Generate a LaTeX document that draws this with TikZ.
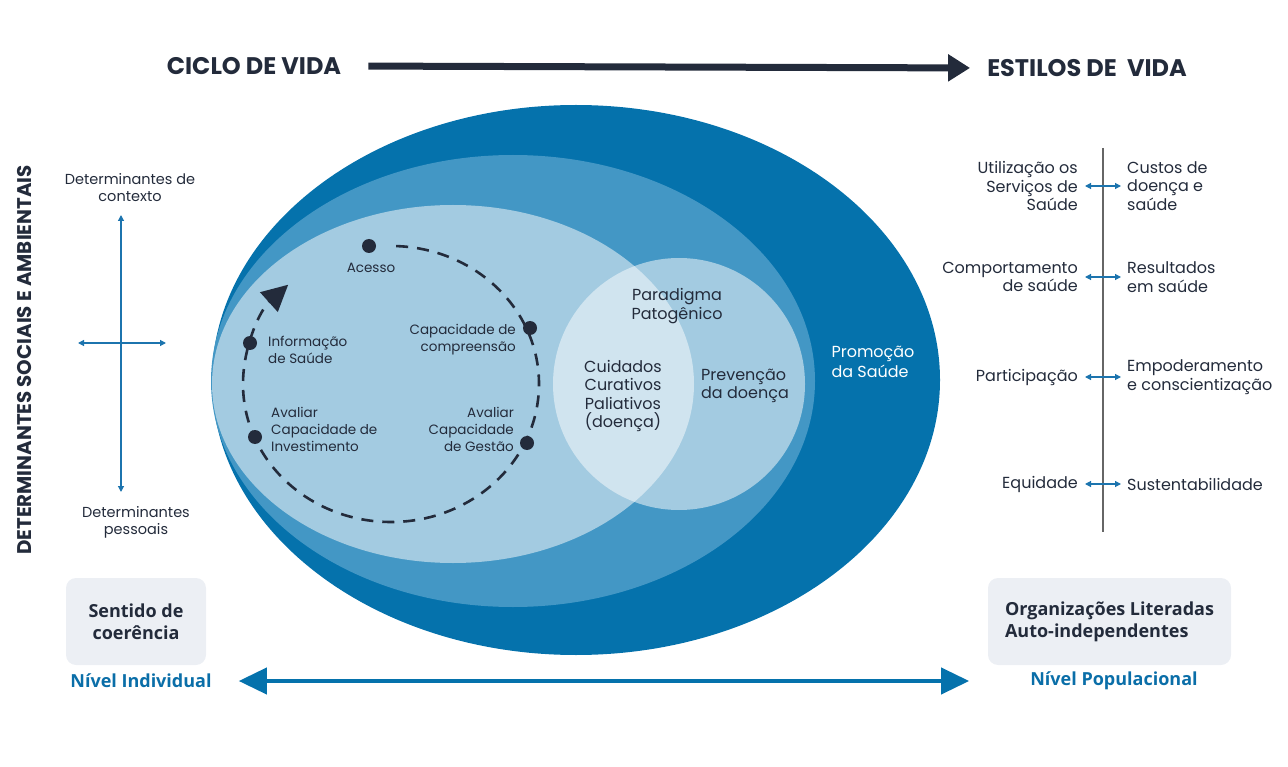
\documentclass[tikz,border=0pt]{standalone}
\usepackage{fontspec}
\setmainfont{Poppins}
\newfontfamily\boxfont{Open Sans}
\usetikzlibrary{positioning,arrows.meta}

\definecolor{ink}{HTML}{232B3B}
\definecolor{deepblue}{HTML}{0572AC}
\definecolor{midblue}{HTML}{4397C5}
\definecolor{paleblue}{HTML}{A3CBE1}
\definecolor{mistblue}{HTML}{D0E4EF}
\definecolor{linkblue}{HTML}{1C74AE}
\definecolor{boxgray}{HTML}{ECEFF4}
\definecolor{levelblue}{HTML}{0A6EA8}

\begin{document}
\begin{tikzpicture}[x=1pt,y=-1pt,
    every node/.style={text=ink, inner sep=0pt},
    title/.style={font=\fontsize{24}{28}\selectfont\bfseries},
    lbl/.style={font=\fontsize{13.5}{17}\selectfont},
    item/.style={font=\fontsize{16}{18.5}\selectfont},
    dot/.style={circle, fill=ink, minimum size=14pt},
    thinarrow/.style={linkblue, line width=1.2pt, {Triangle[length=6pt,width=6pt]}-{Triangle[length=6pt,width=6pt]}},
    levelbox/.style={fill=boxgray, rounded corners=10pt, align=center,
        font=\boxfont\fontsize{18}{22}\selectfont\bfseries},
    level/.style={text=levelblue, font=\boxfont\fontsize{18}{20}\selectfont\bfseries}]

    % Fix the page size
    \useasboundingbox (0,0) rectangle (1288,767);

    % Title arrow on top
    \node[title] (ciclo) at (254,66) {CICLO DE VIDA};
    \node[title] (estilos) at (1087,68) {ESTILOS DE~~VIDA};
    \draw[ink, line width=7pt, shorten <=27pt, shorten >=17pt,
          -{Triangle[length=22pt,width=26pt]}] (ciclo.east) -- (estilos.west);

    % Side label and the cross of determinants
    \node[title, font=\fontsize{19.8}{22}\selectfont\bfseries, rotate=90] (dsa) at (25,360) {DETERMINANTES SOCIAIS E AMBIENTAIS};
    \node[lbl, font=\fontsize{14.5}{17}\selectfont, align=center] (ctx) at (130,188) {Determinantes de\\contexto};
    \node[lbl, font=\fontsize{14.5}{17}\selectfont, align=center] (pes) at (136,522) {Determinantes\\pessoais};
    \coordinate (crossc) at (121,343);
    \coordinate (crossw) at (78,343);
    \coordinate (crosse) at (166,343);
    \draw[thinarrow] (crossc |- 0,215) -- (crossc |- 0,492);
    \draw[thinarrow] (crossw) -- (crosse);

    % Nested ellipses
    \fill[deepblue] (576,380) ellipse [x radius=364, y radius=275];
    \fill[midblue] (513,381) ellipse [x radius=302, y radius=226];
    \fill[paleblue] (453,384) ellipse [x radius=241, y radius=179];
    \fill[paleblue] (679,384) circle (126);
    \begin{scope}
        \clip (453,384) ellipse [x radius=241, y radius=179];
        \fill[mistblue] (679,384) circle (126);
    \end{scope}

    % Texts inside the ellipses
    \node[item, text=white, align=left, font=\fontsize{16}{20}\selectfont] (promo) at (873,362) {Promoção\\da Saúde};
    \node[item, align=center] (parad) at (677,306) {Paradigma\\Patogênico};
    \node[item, align=center] (cuid) at (623,396) {Cuidados\\Curativos\\Paliativos\\(doença)};
    \node[item, align=left] (prev) at (745,386) {Prevenção\\da doença};

    % Dashed cycle
    \coordinate (loopc) at (391,384);
    \draw[ink, line width=2.6pt, dash pattern=on 12pt off 9pt,
          -{Triangle[length=26pt,width=26pt]}]
        ([shift={(-88:148 and 138)}]loopc) arc [start angle=-88, end angle=226, x radius=148, y radius=138];

    \node[dot] (acc) at (369,246) {};
    \node[dot] (comp) at (530,328) {};
    \node[dot] (gest) at (527,443) {};
    \node[dot] (inv) at (255,437) {};
    \node[dot] (info) at (250,343) {};

    \node[lbl] (acctxt) at (371,268) {Acesso};
    \node[lbl, align=right, anchor=east] (comptxt) at (516,340) {Capacidade de\\compreensão};
    \node[lbl, align=right, anchor=east] (gesttxt) at (514,429) {Avaliar\\Capacidade\\de Gestão};
    \node[lbl, align=left, anchor=west] (invtxt) at (271,429) {Avaliar\\Capacidade de\\Investimento};
    \node[lbl, align=left, anchor=west] (infotxt) at (268,350) {Informação\\de Saúde};

    % Lifestyle pairs on the right
    \draw[gray!80!black, line width=1.3pt] (1103,148) -- (1103,532);
    \foreach \y/\lt/\rt [count=\i] in {
        186/{Utilização os\\Serviços de\\Saúde}/{Custos de\\doença e\\saúde},
        277/{Comportamento\\de saúde}/{Resultados\\em saúde},
        377/{Participação}/{Empoderamento\\e conscientização},
        484/{Equidade}/{Sustentabilidade}} {
        \node[item, align=right, anchor=east] (l\i) at (1078,\y) {\lt};
        \node[item, align=left, anchor=west] (r\i) at (1127,\y) {\rt};
        \draw[thinarrow] ([xshift=7pt]l\i.east) -- ++(36,0);
    }

    % Level boxes and bottom arrow
    \node[levelbox, minimum width=140pt, minimum height=87pt] (sentido) at (136,621.5) {Sentido de\\coerência};
    \node[levelbox, minimum width=243pt, minimum height=87pt, align=left] (org) at (1109.5,621.5) {Organizações Literadas\\Auto-independentes};
    \node[level] (indiv) at (141,681) {Nível Individual};
    \node[level] (popul) at (1114,681) {Nível Populacional};
    \draw[deepblue, line width=4pt, shorten <=27pt, shorten >=61pt,
          {Triangle[length=28pt,width=26pt]}-{Triangle[length=28pt,width=26pt]}] (indiv.east) -- (popul.west);

\end{tikzpicture}
\end{document}
